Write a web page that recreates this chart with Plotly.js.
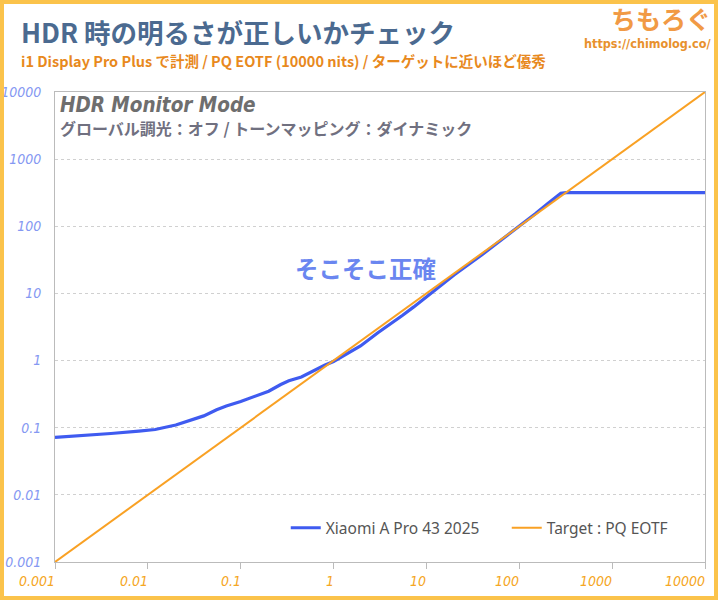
<!DOCTYPE html>
<html><head><meta charset="utf-8">
<script src="https://cdn.plot.ly/plotly-3.0.1.min.js"></script>
<style>
html,body{margin:0;padding:0;background:#fff;}
#wrap{position:relative;width:718px;height:600px;}
#chart{width:718px;height:600px;}
#frame{position:absolute;left:0;top:0;width:718px;height:600px;box-sizing:border-box;border:4px solid #fbc34b;pointer-events:none;}
</style></head>
<body>
<div id="wrap"><div id="chart"></div><div id="frame"></div></div>
<script>
const measX = [0.001,0.002,0.004,0.008,0.012,0.02,0.03,0.04,0.055,0.07,0.1,0.14,0.2,0.27,0.33,0.45,0.6,0.8,1.0,1.3,1.95,3,4.1,5.5,7.3,10,12,20,40,70,100,150,200,250,280,320,500,1000,1100,1200,10000];
const measY = [0.072,0.076,0.082,0.089,0.094,0.11,0.13,0.15,0.185,0.21,0.245,0.29,0.35,0.44,0.5,0.57,0.7,0.85,0.97,1.2,1.65,2.6,3.5,4.7,6.3,8.8,11,19,38,68,100,155,215,280,310,318,318,318,314,318,318];
const targetX = [0.001,0.01,0.1,1,10,100,1000,10000];
const targetY = [0.001,0.01,0.1,1,10,100,1000,10000];
const tickVals = [0.001,0.01,0.1,1,10,100,1000,10000];
const tickText = ["0.001","0.01","0.1","1","10","100","1000","10000"];
const seriesNames = ["Xiaomi A Pro 43 2025","Target : PQ EOTF"];

const condensed = '"Liberation Sans Narrow","DejaVu Sans Condensed","Roboto",sans-serif';
const jp = '"Noto Sans CJK JP","Noto Sans",sans-serif';

const traces = [
  {x: measX, y: measY, name: seriesNames[0], mode:'lines', line:{color:'#3f5bf0', width:3.2}},
  {x: targetX, y: targetY, name: seriesNames[1], mode:'lines', line:{color:'#f9a124', width:2}}
];

const xLabelAnn = tickVals.map((v,i)=>({
  text: tickText[i], xref:'x', yref:'paper', x: Math.log10(v), y:-0.04,
  xanchor:'right', yanchor:'middle', showarrow:false, xshift:2,
  font:{family:condensed, size:14, color:'#f5a623', style:'italic'}
}));

const layout = {
  width:718, height:600,
  margin:{l:55, r:13, t:92, b:38, autoexpand:false},
  paper_bgcolor:'#fff', plot_bgcolor:'#fff',
  showlegend:true,
  legend:{orientation:'h', x:0.355, xanchor:'left', y:0.072, yanchor:'middle',
          entrywidth:176, entrywidthmode:'pixels',
          font:{family:'"Noto Sans",sans-serif', size:15.5, color:'#555'}, bgcolor:'rgba(0,0,0,0)', traceorder:'normal'},
  xaxis:{type:'log', range:[-3,4], tickvals:tickVals, showticklabels:false,
         showgrid:false, showline:true, linecolor:'#bbb', linewidth:1, mirror:true,
         ticks:'outside', ticklen:6, tickcolor:'#bbb', zeroline:false},
  yaxis:{type:'log', range:[-3,4], tickvals:tickVals, ticktext:tickText,
         showgrid:true, gridcolor:'#d0d0d0', griddash:'dot', gridwidth:1,
         showline:true, linecolor:'#bbb', linewidth:1, mirror:true,
         ticks:'', zeroline:false, ticklabelstandoff:10,
         tickfont:{family:condensed, size:14, color:'#8598f2', style:'italic'}},
  annotations: xLabelAnn.concat([
    {text:'<b>HDR 時の明るさが正しいかチェック</b>', xref:'paper', yref:'paper', x:-0.055, y:1.128, xanchor:'left', yanchor:'middle', showarrow:false,
     font:{family:jp, size:26.5, color:'#4b6a90'}},
    {text:'<b>i1 Display Pro Plus で計測 / PQ EOTF (10000 nits) / ターゲットに近いほど優秀</b>', xref:'paper', yref:'paper', x:-0.055, y:1.066, xanchor:'left', yanchor:'middle', showarrow:false,
     font:{family:jp, size:14.5, color:'#e8891d'}},
    {text:'<b>ちもろぐ</b>', xref:'paper', yref:'paper', x:1.012, y:1.158, xanchor:'right', yanchor:'middle', showarrow:false,
     font:{family:jp, size:25, color:'#f19a45'}},
    {text:'<b>https://chimolog.co/</b>', xref:'paper', yref:'paper', x:1.012, y:1.103, xanchor:'right', yanchor:'middle', showarrow:false,
     font:{family:condensed, size:12.5, color:'#e8912d'}},
    {text:'<b><i>HDR Monitor Mode</i></b>', xref:'paper', yref:'paper', x:0.005, y:0.972, xanchor:'left', yanchor:'middle', showarrow:false,
     font:{family:condensed, size:20.5, color:'#6e6e6e'}},
    {text:'<b>グローバル調光：オフ / トーンマッピング：ダイナミック</b>', xref:'paper', yref:'paper', x:0.005, y:0.923, xanchor:'left', yanchor:'middle', showarrow:false,
     font:{family:jp, size:16, color:'#707080'}},
    {text:'<b>そこそこ正確</b>', xref:'paper', yref:'paper', x:0.477, y:0.626, xanchor:'center', yanchor:'middle', showarrow:false,
     font:{family:jp, size:23.5, color:'#6a86f0'}}
  ])
};
Plotly.newPlot('chart', traces, layout, {displayModeBar:false, staticPlot:true});
</script>
</body></html>
